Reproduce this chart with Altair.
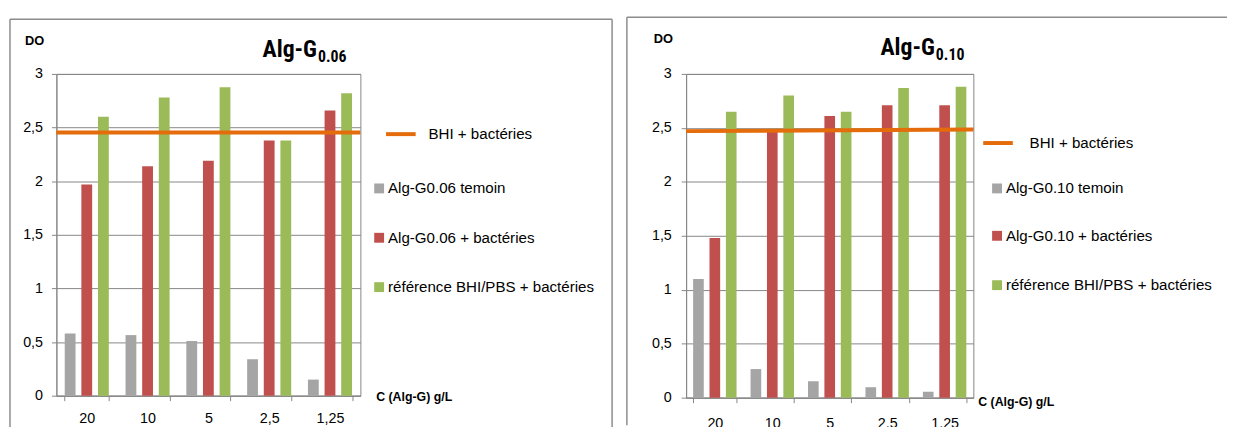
import altair as alt
import pandas as pd

# ---------------- data ----------------
cats_a = ["20", "10", "5", "2,5", "1,25"]
cats_b = ["20", "10", "5", "2.5", "1.25"]
y_ticks = [0, 0.5, 1, 1.5, 2, 2.5, 3]

series_a = ["Alg-G0.06 temoin", "Alg-G0.06 + bactéries", "référence BHI/PBS + bactéries"]
series_b = ["Alg-G0.10 temoin", "Alg-G0.10 + bactéries", "référence BHI/PBS + bactéries"]
line_label = "BHI + bactéries"

temoin_a = [0.58, 0.565, 0.51, 0.34, 0.15]
bact_a = [1.97, 2.14, 2.19, 2.38, 2.66]
ref_a = [2.60, 2.78, 2.875, 2.38, 2.82]
bhi_a = [2.453, 2.453]

temoin_b = [1.10, 0.265, 0.152, 0.097, 0.055]
bact_b = [1.48, 2.48, 2.61, 2.71, 2.71]
ref_b = [2.65, 2.80, 2.65, 2.87, 2.88]
bhi_b = [2.47, 2.485]

title_main = "Alg-G"
title_sub_a = "0.06"
title_sub_b = "0.10"
y_title = "DO"
x_title = "C (Alg-G)  g/L"

bar_colors = ["#A5A5A5", "#C0504D", "#9BBB59"]
line_color = "#E46C0A"
grid_color = "#868686"
border_color = "#8C8C8C"
FONT = "Liberation Sans"
NARROW = "Liberation Sans Narrow, Roboto Condensed, Liberation Sans"


def one(label, x, y, size, bold=False, align="left", baseline="middle", font=FONT):
    return alt.Chart(pd.DataFrame({"t": [label]})).mark_text(
        align=align, baseline=baseline, fontSize=size,
        fontWeight="bold" if bold else "normal", font=font, color="black"
    ).encode(text="t:N", x=alt.value(x), y=alt.value(y))


def seg(x1, x2, y1, y2, color, width):
    return alt.Chart(pd.DataFrame({"a": [0]})).mark_rule(
        color=color, strokeWidth=width
    ).encode(x=alt.value(x1), x2=alt.value(x2), y=alt.value(y1), y2=alt.value(y2))


def box(x1, x2, y1, y2, color):
    return alt.Chart(pd.DataFrame({"a": [0]})).mark_rect(color=color).encode(
        x=alt.value(x1), x2=alt.value(x2), y=alt.value(y1), y2=alt.value(y2))


def panel(cats, series, vals, bhi, sub, w, h, pad_inner, lab_pad, x_lab_pad, g):
    rows = []
    for s, v in zip(series, vals):
        for c, val in zip(cats, v):
            rows.append({"cat": c, "series": s, "value": val})
    df = pd.DataFrame(rows)

    bars = alt.Chart(df).mark_bar().encode(
        x=alt.X("cat:N", sort=cats,
                scale=alt.Scale(paddingInner=pad_inner, paddingOuter=pad_inner / 2),
                axis=alt.Axis(title=None, labelAngle=0, tickBand="extent", grid=False,
                              tickSize=5, labelPadding=x_lab_pad, labelFontSize=14.5,
                              labelFont=FONT, labelColor="black",
                              domainColor=grid_color, tickColor=grid_color)),
        xOffset=alt.XOffset("series:N", sort=series,
                            scale=alt.Scale(paddingInner=0.35, paddingOuter=0)),
        y=alt.Y("value:Q", scale=alt.Scale(domain=[0, 3], nice=False),
                axis=alt.Axis(title=None, values=y_ticks, tickSize=5,
                              labelPadding=lab_pad, labelFontSize=14.5, labelFont=FONT,
                              labelColor="black",
                              labelExpr="replace(toString(datum.value), '.', ',')",
                              grid=True, gridColor=grid_color, gridWidth=1,
                              domainColor=grid_color, tickColor=grid_color)),
        color=alt.Color("series:N", sort=series,
                        scale=alt.Scale(domain=series, range=bar_colors), legend=None),
    )

    line_df = pd.DataFrame({"y0": [bhi[0]], "y1": [bhi[1]]})
    bhi_rule = alt.Chart(line_df).mark_rule(color=line_color, strokeWidth=4).encode(
        x=alt.value(0), x2=alt.value(w), y="y0:Q", y2="y1:Q")

    layers = [bars, bhi_rule]
    # panel border (top, left, right if visible)
    layers.append(seg(g["bl"], g["br"], g["bt"], g["bt"], border_color, 1.5))
    layers.append(seg(g["bl"], g["bl"], g["bt"], g["bb"], border_color, 1.5))
    if g.get("right_border"):
        layers.append(seg(g["br"], g["br"], g["bt"], g["bb"], border_color, 1.5))
    # axis titles and chart title
    layers.append(one(y_title, g["do_x"], g["do_y"], 13, bold=True, align="center"))
    layers.append(one(x_title, g["xt_x"], g["xt_y"], 12.5, bold=True))
    layers.append(one(title_main, g["t_x"], g["t_y"], 24, bold=True, align="right",
                      baseline="alphabetic", font=NARROW))
    layers.append(one(sub, g["t_x"] + 1, g["t_y"] + 5, 16, bold=True,
                      baseline="alphabetic", font=NARROW))
    # legend
    layers.append(seg(g["ll_x1"], g["ll_x2"], g["ll_y"], g["ll_y"], line_color, 4))
    layers.append(one(line_label, g["llt_x"], g["ll_y"], 15.3))
    for i, s in enumerate(series):
        cy = g["sq_y"][i]
        layers.append(box(g["sq_x"], g["sq_x"] + 10, cy - 5, cy + 5, bar_colors[i]))
        layers.append(one(s, g["sqt_x"], cy, 15.3))

    return alt.layer(*layers).properties(width=w, height=h)


geom_a = dict(bl=-47, br=563, bt=-55.5, bb=358, right_border=True,
              do_x=-22, do_y=-33, xt_x=324, xt_y=327, t_x=264, t_y=-17,
              ll_x1=334, ll_x2=364, ll_y=61, llt_x=377,
              sq_x=322, sq_y=[116, 166, 216], sqt_x=336)
geom_b = dict(bl=-60, br=548, bt=-57.5, bb=356, right_border=False,
              do_x=-23, do_y=-35, xt_x=296, xt_y=332, t_x=252, t_y=-19,
              ll_x1=301, ll_x2=331, ll_y=70, llt_x=348,
              sq_x=310, sq_y=[116, 164, 214], sqt_x=324)

left = panel(cats_a, series_a, [temoin_a, bact_a, ref_a], bhi_a, title_sub_a,
             308, 326, 0.275, 9, 11, geom_a)
right = panel(cats_b, series_b, [temoin_b, bact_b, ref_b], bhi_b, title_sub_b,
              291, 328, 0.244, 10, 14, geom_b)

chart = alt.hconcat(left, right, spacing=11).resolve_scale(
    x="independent", y="independent", color="independent", xOffset="independent"
).properties(
    padding={"left": 0, "top": 5, "right": 0, "bottom": 0},
    background="white",
).configure_view(stroke=grid_color, strokeWidth=1)

chart.save("out.html", embed_options={"renderer": "svg", "actions": False})
